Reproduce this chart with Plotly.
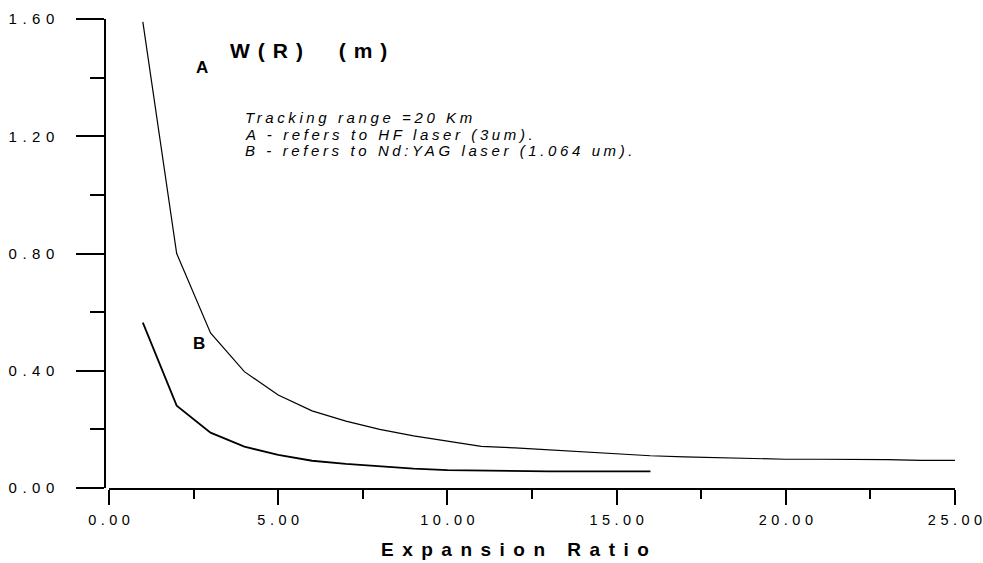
import plotly.graph_objects as go

W, H = 983, 563

# ---- data ----
ratio_a = [1, 2, 3, 4, 5, 6, 7, 8, 9, 10, 11, 12, 13, 14, 15, 16, 17, 18, 19, 20, 21, 22, 23, 24, 25]
w_a = [1.59, 0.80, 0.529, 0.397, 0.317, 0.263, 0.228, 0.200, 0.178, 0.161, 0.142, 0.137, 0.130,
       0.123, 0.116, 0.110, 0.106, 0.103, 0.100, 0.098, 0.098, 0.098, 0.097, 0.094, 0.094]
ratio_b = [1, 2, 3, 4, 5, 6, 7, 8, 9, 10, 11, 12, 13, 14, 15, 16]
w_b = [0.564, 0.281, 0.189, 0.141, 0.113, 0.093, 0.082, 0.073, 0.066, 0.061, 0.059, 0.058,
       0.057, 0.057, 0.057, 0.057]

y_ticks = [0.0, 0.4, 0.8, 1.2, 1.6]
y_labels = ["0.00", "0.40", "0.80", "1.20", "1.60"]
x_ticks = [0, 5, 10, 15, 20, 25]
x_labels = ["0.00", "5.00", "10.00", "15.00", "20.00", "25.00"]

x_title = "Expansion Ratio"
y_title = "W(R)  (m)"
notes = ["Tracking range =20 Km",
         "A - refers to HF laser (3um).",
         "B - refers to Nd:YAG laser (1.064 um)."]

FONT = "Arial, Liberation Sans, sans-serif"


def spaced(t, px):
    return f'<span style="letter-spacing:{px}px">{t}</span>'


def spaced_tight(t, px):
    # letter-spaced text without trailing space after the last character
    return spaced(t[:-1], px) + t[-1]


fig = go.Figure()
fig.add_trace(go.Scatter(x=ratio_a, y=w_a, mode="lines",
                         line=dict(color="black", width=1.2), name="A", showlegend=False))
fig.add_trace(go.Scatter(x=ratio_b, y=w_b, mode="lines",
                         line=dict(color="black", width=1.8), name="B", showlegend=False))

fig.update_layout(
    width=W, height=H,
    margin=dict(l=0, r=0, t=0, b=0),
    paper_bgcolor="white", plot_bgcolor="white",
    font=dict(family=FONT, color="black"),
    showlegend=False,
    xaxis=dict(
        domain=[109 / W, 955 / W], range=[0, 25],
        showgrid=False, zeroline=False,
        showline=True, linecolor="black", linewidth=1.5,
        ticks="outside", ticklen=15, tickwidth=1.5, tickcolor="black",
        tickvals=x_ticks, ticktext=[spaced_tight(t, 4.5) for t in x_labels],
        tickfont=dict(size=14.5, family=FONT, color="black"),
        ticklabelstandoff=3, ticklabeloverflow="allow",
        minor=dict(dtick=2.5, ticklen=9, tickwidth=1.5, tickcolor="black", ticks="outside", showgrid=False),
        automargin=False, fixedrange=True,
    ),
    yaxis=dict(
        domain=[75 / H, 544 / H], range=[0, 1.6],
        anchor="free", position=105 / W,
        showgrid=False, zeroline=False,
        showline=True, linecolor="black", linewidth=1.5,
        ticks="outside", ticklen=28, tickwidth=1.5, tickcolor="black",
        tickvals=y_ticks, ticktext=[spaced_tight(t, 5.5) for t in y_labels],
        tickfont=dict(size=15, family=FONT, color="black"),
        ticklabelstandoff=19, ticklabeloverflow="allow",
        minor=dict(dtick=0.2, ticklen=14, tickwidth=1.5, tickcolor="black", ticks="outside", showgrid=False),
        automargin=False, fixedrange=True,
    ),
)

ann = []
ann.append(dict(text="<b>" + spaced(x_title, 8.5) + "</b>", x=519 / W, y=1 - 549 / H,
                xref="paper", yref="paper", xanchor="center", yanchor="middle",
                showarrow=False, font=dict(size=19, family=FONT, color="black")))
ann.append(dict(text="<b>" + spaced(y_title.replace(" ", "\u00a0"), 8) + "</b>", x=228 / W, y=1 - 50 / H,
                xref="paper", yref="paper", xanchor="left", yanchor="middle",
                showarrow=False, font=dict(size=21, family=FONT, color="black")))
ann.append(dict(text="<b>A</b>", x=201.5 / W, y=1 - 67.5 / H,
                xref="paper", yref="paper", xanchor="center", yanchor="middle",
                showarrow=False, font=dict(size=17, family=FONT, color="black")))
ann.append(dict(text="<b>B</b>", x=198.5 / W, y=1 - 343.7 / H,
                xref="paper", yref="paper", xanchor="center", yanchor="middle",
                showarrow=False, font=dict(size=17, family=FONT, color="black")))
for i, t in enumerate(notes):
    ann.append(dict(text="<i>" + spaced(t, 3.6) + "</i>", x=243 / W, y=1 - (117.5 + 16.7 * i) / H,
                    xref="paper", yref="paper", xanchor="left", yanchor="middle",
                    showarrow=False, font=dict(size=15, family=FONT, color="black")))
fig.update_layout(annotations=ann)

fig.write_html("out.html")
